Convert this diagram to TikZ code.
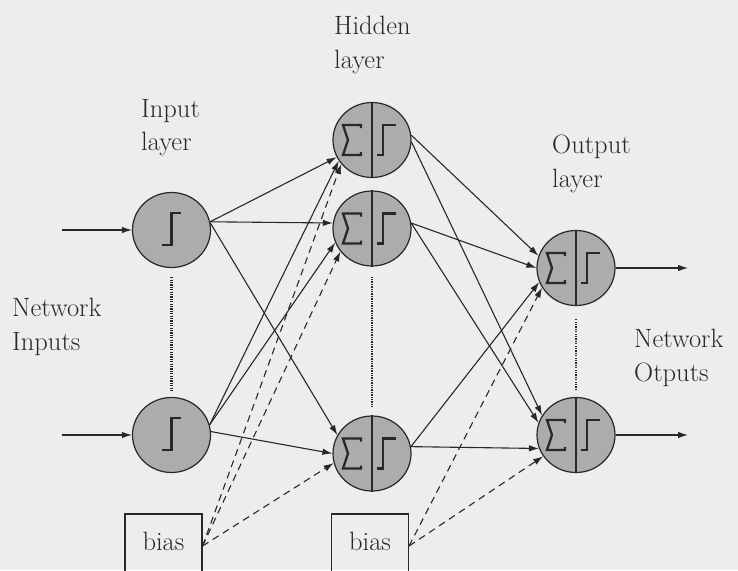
\documentclass[tikz,border=0pt]{standalone}
\usepackage{fontspec}
\usetikzlibrary{arrows.meta,shapes.geometric}
\definecolor{bgc}{RGB}{237,237,237}
\definecolor{ink}{RGB}{40,40,40}
\definecolor{cellfill}{RGB}{172,172,172}
\begin{document}
\begin{tikzpicture}[x=1pt,y=-1pt,
  neuron/.style={ellipse, draw=ink, line width=1.2pt, fill=cellfill, minimum width=78pt, minimum height=75pt, inner sep=0pt},
  conn/.style={draw=ink, line width=1.1pt, -{Latex[length=10pt,width=6.5pt]}},
  biasconn/.style={conn, dash pattern=on 7pt off 5pt},
  dotline/.style={draw=ink, line width=2.6pt, dash pattern=on 1.3pt off 1.1pt},
  sym/.style={draw=ink, line width=2.3pt, line join=miter},
  divider/.style={draw=ink, line width=1.2pt},
  lbl/.style={font=\rmfamily\fontsize{26.5}{33.5}\selectfont, align=left, anchor=north west, inner sep=0pt, text=ink},
  biasbox/.style={draw=ink, line width=1.1pt, minimum width=77pt, minimum height=64pt, font=\rmfamily\fontsize{26.5}{33.5}\selectfont, text=ink, text depth=10pt, inner sep=0pt},
  pics/stepin/.style={code={\draw[sym] (-9.5,15) -- (0,15) -- (0,-17) -- (9,-17);}},
  pics/stepout/.style={code={\draw[sym] (5,15) -- (11,15) -- (11,-15) -- (24,-15);}},
  pics/sigma/.style={code={\draw[sym] (-11,-12) -- (-11,-15) -- (-29,-15) -- (-24,0) -- (-29,15) -- (-11,15) -- (-11,12);}},
]
\useasboundingbox (0,0) rectangle (738,570);
\clip (0,0) rectangle (738,570);
\fill[bgc] (0,0) rectangle (738,570);

% labels
\node[lbl] (lhid) at (334,16) {Hidden\\layer};
\node[lbl] (linp) at (141,99) {Input\\layer};
\node[lbl] (lout) at (552,135) {Output\\layer};
\node[lbl] (lnin) at (12,298) {Network\\Inputs};
\node[lbl] (lnout) at (634,329) {Network\\Otputs};

% neurons
\node[neuron] (i1) at (171.5,230) {};
\node[neuron] (i2) at (171.5,435) {};
\node[neuron] (h1) at (372,140) {};
\node[neuron] (h2) at (372,228.5) {};
\node[neuron] (h3) at (372,453.5) {};
\node[neuron] (o1) at (576,268) {};
\node[neuron] (o2) at (576,435) {};

\foreach \n in {h1,h2,h3,o1,o2} {
  \draw[divider] (\n.north) -- (\n.south);
  \pic at (\n) {sigma};
  \pic at (\n) {stepout};
}
\pic at (i1) {stepin};
\pic at (i2) {stepin};

% bias boxes
\node[biasbox] (bl) at (163.5,546) {bias};
\node[biasbox] (br) at (370,546) {bias};

% dotted continuation lines
\draw[dotline, shorten <=9pt, shorten >=5pt] (i1.south) -- (i2.north);
\draw[dotline, shorten <=10pt, shorten >=9pt] (h2.south) -- (h3.north);
\draw[dotline, shorten <=13pt, shorten >=8pt] (o1.south) -- (o2.north);

% network inputs and outputs
\coordinate (x1) at (62,230);
\coordinate (x2) at (62,435);
\coordinate (y1) at (688,268);
\coordinate (y2) at (688,435);
\draw[conn] (x1) -- (i1);
\draw[conn] (x2) -- (i2);
\draw[conn] (o1) -- (y1);
\draw[conn] (o2) -- (y2);

% input -> hidden
\draw[conn] (i1.12) -- (h1.206);
\draw[conn] (i1.12) -- (h2.172);
\draw[conn] (i1.10) -- (h3.152);
\draw[conn] (i2.15) -- (h1.212);
\draw[conn] (i2.15) -- (h2.201);
\draw[conn] (i2.5) -- (h3.180);

% hidden -> output
\draw[conn] (h1.7) -- (o1.162);
\draw[conn] (h1.-3) -- (o2.150);
\draw[conn] (h2.8) -- (o1.180);
\draw[conn] (h2.8) -- (o2.162);
\draw[conn] (h3.10) -- (o1.201);
\draw[conn] (h3.10) -- (o2.200);

% bias connections
\draw[biasconn] (bl.east) -- (h1.218);
\draw[biasconn] (bl.east) -- (h2.216);
\draw[biasconn] (bl.east) -- (h3.194);
\draw[biasconn] (br.east) -- (o1.210);
\draw[biasconn] (br.east) -- (o2.213);
\end{tikzpicture}
\end{document}
